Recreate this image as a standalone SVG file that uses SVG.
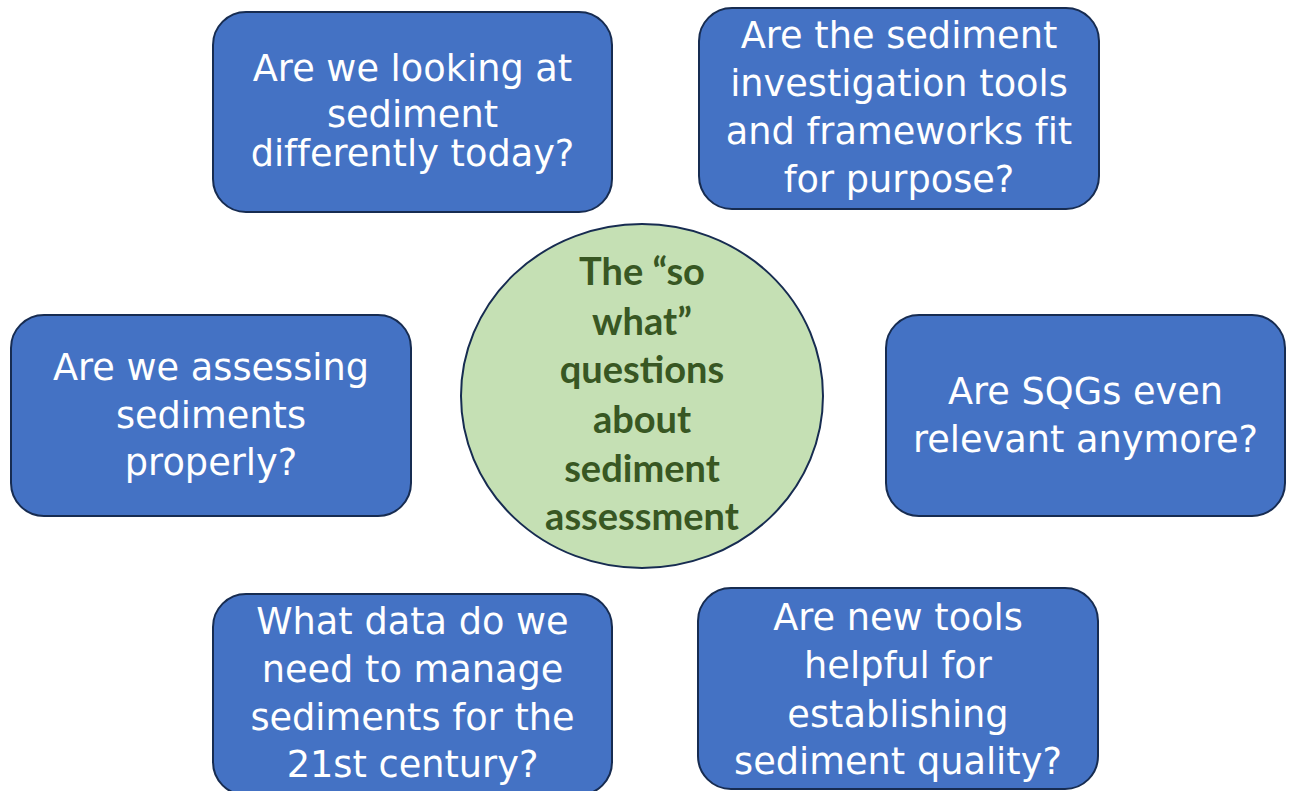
<svg xmlns="http://www.w3.org/2000/svg" width="1292" height="791" viewBox="0 0 1292 791">
<style>
.box{fill:#4472C4;stroke:#172C51;stroke-width:2}
.bt{font-family:"DejaVu Sans",Verdana,sans-serif;font-size:36.7px;fill:#FFFFFF;text-anchor:middle;font-variant-ligatures:none}
.hub{fill:#C5E0B4;stroke:#172C51;stroke-width:2}
.ht{font-family:Lato,"Liberation Sans",sans-serif;font-weight:700;font-size:38px;fill:#385723;text-anchor:middle}
</style>
<rect width="1292" height="791" fill="#FFFFFF"/>
<g id="connectors"></g>
<g id="hub">
<ellipse class="hub" cx="642" cy="396" rx="181" ry="172"/>
<text class="ht" x="642" y="285">The “so</text>
<text class="ht" x="642" y="335">what”</text>
<text class="ht" x="642" y="383">questions</text>
<text class="ht" x="642" y="433">about</text>
<text class="ht" x="642" y="482">sediment</text>
<text class="ht" x="642" y="530">assessment</text>
</g>
<g id="q1">
<rect class="box" x="213" y="12" width="399" height="200" rx="33"/>
<text class="bt" x="412.5" y="81">Are we looking at</text>
<text class="bt" x="412.5" y="127">sediment</text>
<text class="bt" x="412.5" y="166">differently today?</text>
</g>
<g id="q2">
<rect class="box" x="699" y="8" width="400" height="201" rx="33"/>
<text class="bt" x="899" y="48">Are the sediment</text>
<text class="bt" x="899" y="96">investigation tools</text>
<text class="bt" x="899" y="144">and frameworks fit</text>
<text class="bt" x="899" y="192">for purpose?</text>
</g>
<g id="q3">
<rect class="box" x="11" y="315" width="400" height="201" rx="33"/>
<text class="bt" x="211" y="380">Are we assessing</text>
<text class="bt" x="211" y="428">sediments</text>
<text class="bt" x="211" y="475">properly?</text>
</g>
<g id="q4">
<rect class="box" x="886" y="315" width="399" height="201" rx="33"/>
<text class="bt" x="1085.5" y="404">Are SQGs even</text>
<text class="bt" x="1085.5" y="452">relevant anymore?</text>
</g>
<g id="q5">
<rect class="box" x="213" y="594" width="399" height="201" rx="33"/>
<text class="bt" x="412.5" y="634">What data do we</text>
<text class="bt" x="412.5" y="682">need to manage</text>
<text class="bt" x="412.5" y="730">sediments for the</text>
<text class="bt" x="412.5" y="777">21st century?</text>
</g>
<g id="q6">
<rect class="box" x="698" y="588" width="400" height="201" rx="33"/>
<text class="bt" x="898" y="630">Are new tools</text>
<text class="bt" x="898" y="678">helpful for</text>
<text class="bt" x="898" y="727">establishing</text>
<text class="bt" x="898" y="774">sediment quality?</text>
</g>
</svg>
